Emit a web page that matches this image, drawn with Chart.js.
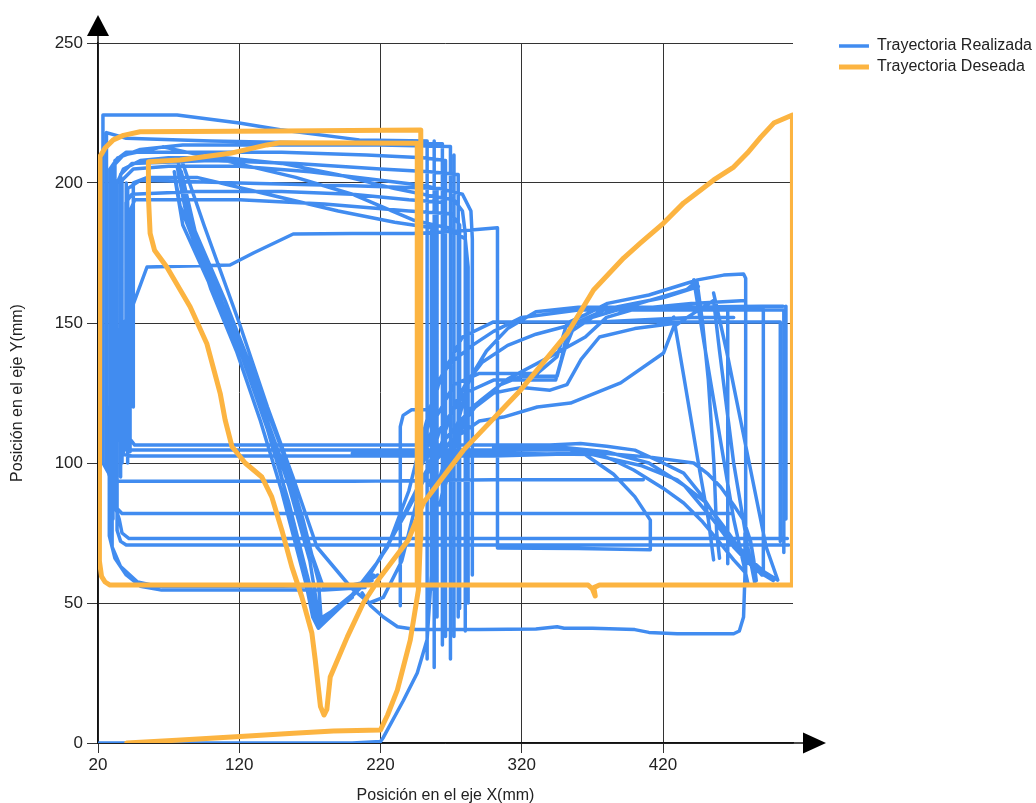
<!DOCTYPE html>
<html>
<head>
<meta charset="utf-8">
<title>Trayectoria</title>
<script src="https://cdn.jsdelivr.net/npm/chart.js@4.4.1/dist/chart.umd.min.js"></script>
<style>
  html, body { margin: 0; padding: 0; background: #fff; }
  #wrap { width: 1036px; height: 803px; }
</style>
</head>
<body>
<div id="wrap"><canvas id="chart" width="1036" height="803"></canvas></div>
<script>
// tick values
const xTicks = [20, 120, 220, 320, 420];
const yTicks = [0, 50, 100, 150, 200, 250];

// Trayectoria Deseada (one continuous path, [x, y] in mm)
const deseada = [
  [40.3,0],[75.7,1],[120.6,2.3],[158.4,3.5],[186.6,4.3],[219.9,4.6],[225,10],[231.9,18.9],[241.1,36.8],
  [246.8,54.6],[248.2,72.5],[248.5,120],[248.5,218.9],[150,218.6],[49.8,218.3],[38,217],[30.8,215.4],
  [25,212.5],[21.4,209.4],[21,200],[21,65],[22.5,59.5],[25,57.5],[28.5,56.4],[100,56.4],[200,56.4],
  [300,56.4],[367,56.4],[370,55],[372,52.5],[371,55.5],[375,56.4],[450,56.4],[511.6,56.4],[511.6,224.3],
  [498.4,221.4],[489.2,216.4],[479.7,210.7],[470,205.7],[455.9,201.1],[446.7,197.5],[434.6,192.9],
  [420.4,185.7],[404.1,178.6],[392.1,173.2],[370.8,161.8],[352.4,146.4],[319.1,126],[278.7,104.6],
  [250.3,85.7],[239.7,72.5],[219.9,59.3],[207.8,50],[196.5,37.9],[184.4,23.6],[182,12],[180,10],
  [177.5,13],[173.8,29.6],[171.4,39.3],[164.3,52.2],[157.2,63],[150.1,76.1],[143,87.9],[136,95],
  [124.2,100],[114.8,105.9],[110,115.4],[106.5,124.9],[97,142.7],[85.2,155.8],[68.7,170],[60,176],
  [56.9,182],[55.7,195],[55.7,207.6],[78.1,208.2],[113.5,210.6],[139.5,213.6],[149,214.4],[200,214.3],
  [246,214.2],[246,57]
];

// Trayectoria Realizada (several recorded runs)
const realizada1 = [[406,94],[300,94],[200,93.5],[100,93.5],[34,93.5],[29,95],[23.5,100],[23.5,224.3],[76,224.3],[120,221.4],[149,219],[205,215.4],[253,215],[253,30]];
const realizada2 = [[468,82],[380,82],[250,82],[120,82],[37,82],[33,84],[31,88],[26,100],[26,218],[40,216],[100,215],[200,214],[263.8,214],[263.8,35]];
const realizada3 = [[508,73],[350,73],[200,73],[42,73],[37,75],[35,80],[28.5,90],[28.5,205],[34,209],[50,212],[80,213.6],[150,213.6],[220,213.6],[269.5,213],[269.5,30]];
const realizada4 = [[509,70.7],[400,70.7],[250,70.7],[120,70.7],[40,70.7],[36,72],[33.5,76],[33.5,200],[38,205],[50,208],[70,209],[110,209],[150,207],[190,203],[230,198],[260,195],[272,194],[278,190],[280,182],[280,40]];
const realizada5 = [[30.6,80],[30.6,206],[38,210],[66,212.9],[110,208],[160,202],[200,196],[243,186.8],[258,185],[268,184],[280,180],[282,170],[282,50]];
const realizada6 = [[37,100],[37,201],[45,205],[70,206],[120,206],[170,204],[220,201],[252,199],[260,198],[260,45]];
const realizada7 = [[39.8,110],[39.8,193],[44,196],[90,197],[150,197],[200,196],[240,194],[266,193],[266,38]];
const realizada8 = [[42.7,104],[42.7,190],[46,194],[60,194],[120,194],[180,192.5],[240,190],[270,189],[276,185],[276,48]];
const realizada9 = [[45,120],[45,200],[55,202],[90,202],[140,196],[190,190],[230,186],[256,184],[256,55]];
const realizada10 = [[35.6,108],[35.6,147.5],[42.7,153.6],[54.7,170],[113.5,170.7],[130,175],[158.2,181.8],[200,182],[243,182],[280,183],[302.8,184],[302.8,69.6],[360,69.5],[411,69],[411,79.6],[400,88],[385,96],[362,104],[340,105.7]];
const realizada11 = [[28,120],[28,74],[32,66],[40,60],[50,56],[65,54.6],[120,54.6],[180,54.6],[209,55.5]];
const realizada12 = [[30,95],[30,70],[36,63],[48,57.5],[62,56],[150,56],[200,56.4],[214,58]];
const realizada13 = [[42,180],[42,109],[46,106.4],[120,106.4],[200,106.4],[280,106.4],[340,106.4],[361.6,107],[380,106],[400,104.6],[420,100],[434.6,96.4],[448,88],[458.7,79.6],[470,72],[482,65.4],[492,61],[501,58.2]];
const realizada14 = [[40,200],[40,104.6],[46,104.6],[150,104.6],[250,104.6],[330,104.6],[366.6,104.6],[385,101],[399.2,97.5],[420,91],[434.6,85.7],[448,79],[458.7,72.5],[470,65.4],[478,61]];
const realizada15 = [[38,150],[38,103],[44,102.5],[150,102.5],[300,102.5],[375.8,103.6],[411,102.1],[441.7,100],[452,96],[460.8,91.4],[470,85],[477,79.6],[482,72],[484.2,65.4],[486,58]];
const realizada16 = [[76,206],[82,190],[100,162],[118,140],[135,115],[150,90],[163,65],[175,42],[190,48],[210,58],[230,75],[250,95],[265,108],[285,120],[310,130],[340,138],[365,145],[380,152],[400,155],[440,157],[478.5,158],[478.5,60]];
const realizada17 = [[78,205],[86,186],[110,158],[130,132],[150,105],[165,80],[176,58],[178,44],[200,53],[220,66],[240,84],[255,98],[270,108],[290,115],[307,116.4],[331,120],[354.5,121.4],[390,128.6],[420.4,139.3],[427.5,148.6],[437.4,152.1],[455.8,158],[460,140],[470,100],[480,70],[485,57]];
const realizada18 = [[74,204],[78,192],[95,170],[125,135],[145,105],[160,75],[172,45],[176,41],[205,55],[225,70],[240,90],[250,110],[258,125],[268,135],[285,142],[300,147],[320,152],[360,154.6],[420,154.6],[470,154.6],[505.5,154.6],[505.5,68]];
const realizada19 = [[80,207],[95,185],[120,150],[140,120],[158,95],[175,70],[200,55],[212,50],[222,52],[235,65],[245,85],[252,110],[262,130],[278,145],[300,150.4],[330,150.4],[400,150.4],[460,150.4],[503,150.4],[503,72]];
const realizada20 = [[250,100],[258,115],[272,128],[290,132],[310,132],[331,132],[345,138],[352,150],[365,153],[380.7,157],[410,160],[437.4,164.3],[444.5,165.4],[462.9,167.1],[477,167.5],[478.5,166],[478.5,60]];
const realizada21 = [[252,95],[262,112],[280,125],[300,129.6],[320,129.6],[344,129.6],[348,137],[352,146],[370,152],[410,158],[437,162],[444,165],[448,150],[452,130],[456,100],[458,75],[460,66]];
const realizada22 = [[427.5,152.1],[435,130],[445,100],[452,80],[455.8,65.4]];
const realizada23 = [[441.7,165.4],[450,140],[460,110],[470,80],[480,57.1]];
const realizada24 = [[455.8,160.7],[465,140],[475,115],[485,90],[493,70],[501.2,58.2]];
const realizada25 = [[491,155],[491,60]];
const realizada26 = [[465.8,154],[465.8,64]];
const realizada27 = [[507,156],[507,80]];
const realizada28 = [[262,85],[268,100],[275,115],[283,130],[295,140],[310,148],[330,154],[360,155.6],[420,155.6],[490,156],[505,156]];
const realizada29 = [[265,90],[272,105],[282,118],[300,125],[320,127],[340,126],[352,128],[362,137],[375,145],[400,148],[430,150]];
const realizada30 = [[21,0],[100,0],[200,0],[220,0.5],[222,2],[236,15],[246,25],[253,37],[256,60],[257,100]];
const realizada31 = [[207,53.6],[213,49],[222,45],[232,41.5],[245,40.5],[290,40.5],[330,40.7],[345,41.5],[350,41],[370,41],[400,40.5],[410,39.5],[430,39],[470,39],[474,40],[477,45],[478,60],[478,75]];
const realizada32 = [[234,49],[234,113],[236,117],[242,119],[255,119]];
const realizada33 = [[258,215],[258,27]];
const realizada34 = [[272,210],[272,38]];
const realizada35 = [[77,207],[84,188],[105,160],[122,138],[140,112],[155,86],[168,60],[176,44],[195,50],[215,60]];
const realizada36 = [[79,204],[90,180],[112,152],[132,126],[152,98],[168,72],[180,55],[205,56],[218,60]];
const realizada37 = [[75,200],[80,185],[98,165],[120,142],[138,118],[155,92],[170,65],[177,43],[200,52]];
const realizada38 = [[32,85],[32,208],[40,211],[80,211],[150,211],[210,210],[250,209],[266,208],[266,40]];
const realizada39 = [[36,95],[36,203],[44,207],[100,208],[160,207],[220,205],[255,204],[275,203],[275,45]];
const realizada40 = [[41,100],[41,198],[50,201],[120,200],[200,199],[262,198],[278,196],[284,190],[285,180],[285,60]];
const realizada41 = [[258,88],[265,100],[275,112],[290,122],[305,128],[320,131],[335,131],[345,131],[350,140],[358,150],[380,155],[420,159],[445,163]];
const realizada42 = [[255,92],[262,105],[270,118],[280,128],[292,136],[310,142],[330,146],[360,150],[400,151],[440,152],[470,152]];
const realizada43 = [[300,105.5],[350,105.5],[380,104],[410,100],[435,92],[455,80],[470,70],[485,62],[498,58]];
const realizada44 = [[200,103.5],[300,103.5],[370,103],[405,99],[430,94],[450,86],[465,76],[476,68],[490,60]];

const realizadaRuns = [
  realizada1, realizada2, realizada3, realizada4, realizada5, realizada6, realizada7, realizada8,
  realizada9, realizada10, realizada11, realizada12, realizada13, realizada14, realizada15, realizada16,
  realizada17, realizada18, realizada19, realizada20, realizada21, realizada22, realizada23, realizada24,
  realizada25, realizada26, realizada27, realizada28, realizada29, realizada30, realizada31, realizada32,
  realizada33, realizada34, realizada35, realizada36, realizada37, realizada38, realizada39, realizada40,
  realizada41, realizada42, realizada43, realizada44
];

// join several runs into one dataset, a null point breaks the line between runs
function joinRuns(runs) {
  const pts = [];
  runs.forEach((run, i) => {
    if (i > 0) pts.push({x: null, y: null});
    run.forEach(p => pts.push({x: p[0], y: p[1]}));
  });
  return pts;
}

const FONT = "'Liberation Sans', Arial, sans-serif";
const TEXT = '#222';

// arrow heads at the end of both axes
const axisArrows = {
  id: 'axisArrows',
  afterDraw(chart) {
    const ctx = chart.ctx;
    const a = chart.chartArea;
    ctx.save();
    ctx.strokeStyle = '#111';
    ctx.fillStyle = '#000';
    ctx.lineWidth = 1.5;
    ctx.beginPath();
    ctx.moveTo(a.right, a.bottom);
    ctx.lineTo(a.right + 12, a.bottom);
    ctx.moveTo(a.left, a.top);
    ctx.lineTo(a.left, a.top - 8);
    ctx.stroke();
    ctx.beginPath();
    ctx.moveTo(a.right + 10, a.bottom - 10.5);
    ctx.lineTo(a.right + 33, a.bottom);
    ctx.lineTo(a.right + 10, a.bottom + 10.5);
    ctx.closePath();
    ctx.fill();
    ctx.beginPath();
    ctx.moveTo(a.left - 11, a.top - 7);
    ctx.lineTo(a.left, a.top - 28);
    ctx.lineTo(a.left + 11, a.top - 7);
    ctx.closePath();
    ctx.fill();
    ctx.restore();
  }
};

new Chart(document.getElementById('chart'), {
  type: 'scatter',
  data: {
    datasets: [
      {
        label: 'Trayectoria Realizada',
        data: joinRuns(realizadaRuns),
        showLine: true,
        borderColor: '#418CF0',
        backgroundColor: '#418CF0',
        borderWidth: 3.5,
        borderJoinStyle: 'round',
        borderCapStyle: 'round',
        pointRadius: 0,
        pointHoverRadius: 0,
        order: 1
      },
      {
        label: 'Trayectoria Deseada',
        data: joinRuns([deseada]),
        showLine: true,
        borderColor: '#FCB441',
        backgroundColor: '#FCB441',
        borderWidth: 5,
        borderJoinStyle: 'round',
        borderCapStyle: 'round',
        pointRadius: 0,
        pointHoverRadius: 0,
        order: 0
      }
    ]
  },
  options: {
    responsive: false,
    animation: false,
    layout: { padding: { top: 33, right: -6, bottom: 0, left: 0 } },
    plugins: {
      tooltip: { enabled: false },
      legend: {
        position: 'right',
        align: 'start',
        maxWidth: 300,
        labels: {
          usePointStyle: true,
          pointStyle: 'line',
          pointStyleWidth: 30,
          padding: 5,
          color: TEXT,
          font: { family: FONT, size: 16 },
          sort: (a, b) => a.datasetIndex - b.datasetIndex
        }
      }
    },
    scales: {
      x: {
        type: 'linear',
        min: 20,
        max: 512,
        afterBuildTicks: s => { s.ticks = xTicks.map(v => ({value: v})); },
        afterFit: s => { s.height = 60; },
        grid: { color: '#333', lineWidth: 1, tickLength: 10 },
        border: { color: '#111', width: 1.5 },
        ticks: { color: TEXT, font: { family: FONT, size: 17 }, padding: 2, maxRotation: 0, autoSkip: false },
        title: { display: true, text: 'Posición en el eje X(mm)', color: TEXT, font: { family: FONT, size: 16 }, padding: { top: 0, bottom: -2 } }
      },
      y: {
        type: 'linear',
        min: 0,
        max: 250,
        afterBuildTicks: s => { s.ticks = yTicks.map(v => ({value: v})); },
        afterFit: s => { s.width = 98; s.paddingTop = 10; s.paddingBottom = 0; },
        grid: { color: '#333', lineWidth: 1, tickLength: 11 },
        border: { color: '#111', width: 1.5 },
        ticks: { color: TEXT, font: { family: FONT, size: 17 }, padding: 4 },
        title: { display: true, text: 'Posición en el eje Y(mm)', color: TEXT, font: { family: FONT, size: 16 }, padding: { top: 8, bottom: 0 } }
      },
      // empty boxes that only keep room around the plot
      gapTop: {
        type: 'linear',
        axis: 'x',
        position: 'top',
        grid: { display: false, drawTicks: false },
        border: { display: false },
        ticks: { display: false },
        afterFit: s => { s.height = 10; }
      },
      gap: {
        type: 'linear',
        axis: 'y',
        position: 'right',
        grid: { display: false, drawTicks: false },
        border: { display: false },
        ticks: { display: false },
        afterFit: s => { s.width = Math.max(0, s.chart.width + 6 - 793 - s.chart.legend.width); }
      }
    }
  },
  plugins: [axisArrows]
});
</script>
</body>
</html>
